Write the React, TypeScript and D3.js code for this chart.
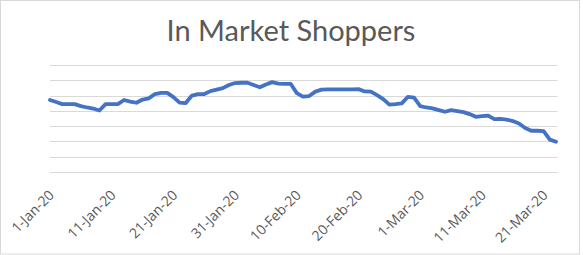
import React from "react";
import * as d3 from "d3";

const startDate = "2020-01-01";
const shoppers: number[] = [
  47.1, 45.8, 44.4, 44.4, 44.4, 43.1, 42.2, 41.5, 40.2, 44.4,
  44.4, 44.4, 47.1, 46.1, 45.3, 47.4, 48.2, 51.0, 51.8, 51.8,
  49.0, 45.4, 45.1, 50.0, 51.0, 51.0, 52.9, 53.9, 54.9, 56.9,
  58.2, 58.4, 58.4, 56.9, 55.4, 57.2, 58.8, 57.8, 57.7, 57.7,
  51.6, 49.3, 49.7, 52.6, 53.9, 54.1, 54.1, 54.1, 54.1, 54.1,
  54.2, 52.7, 52.6, 50.3, 47.7, 44.1, 44.4, 44.9, 49.2, 48.7,
  43.1, 42.2, 41.6, 40.5, 39.4, 40.5, 39.9, 39.2, 37.9, 36.1,
  36.6, 36.9, 34.6, 34.8, 34.3, 33.3, 31.7, 28.8, 27.0, 27.0,
  26.8, 21.2, 19.8,
];
const tickLabels = [
  "1-Jan-20", "11-Jan-20", "21-Jan-20", "31-Jan-20", "10-Feb-20",
  "20-Feb-20", "1-Mar-20", "11-Mar-20", "21-Mar-20",
];
const yTicks = [0, 10, 20, 30, 40, 50, 60, 70];
const title = "In Market Shoppers";

export default function App() {
  const W = 583, H = 255;
  const left = 50, right = 557.5, top = 65, bottom = 172;
  const t0 = new Date(startDate + "T00:00:00");
  const dates = shoppers.map((_, i) => d3.timeDay.offset(t0, i));
  const x = d3.scaleTime().domain([dates[0], dates[dates.length - 1]]).range([left, right - 1.5]);
  const y = d3.scaleLinear().domain([0, 70]).range([bottom, top]);
  const line = d3.line<number>().x((_, i) => x(dates[i])).y((d) => y(d));
  const tickDates = tickLabels.map((_, i) => d3.timeDay.offset(t0, i * 10));
  const font = "'Open Sans', 'Liberation Sans', Arial, sans-serif";
  return (
    <svg width={W} height={H} style={{ position: "absolute", left: 0, top: 0, background: "#fff" }}>
      <rect x={0.5} y={0.5} width={W - 4} height={H - 1.5} fill="#fff" stroke="#d9d9d9" />
      <text x={291} y={41} textAnchor="middle" fontFamily="Lato, sans-serif" fontSize={29} fill="#595959">
        {title}
      </text>
      {yTicks.map((t) => (
        <line key={t} x1={left} x2={right} y1={Math.round(y(t)) + 0.5} y2={Math.round(y(t)) + 0.5} stroke="#d9d9d9" strokeWidth={1} />
      ))}
      <path d={line(shoppers) || ""} fill="none" stroke="#4472c4" strokeWidth={3.8} strokeLinejoin="round" strokeLinecap="round" />
      {tickDates.map((d, i) => (
        <text key={i} transform={`translate(${x(d) + 5},${196}) rotate(-45)`} textAnchor="end"
          fontFamily={font} fontSize={14} fill="#595959">
          {tickLabels[i]}
        </text>
      ))}
    </svg>
  );
}
